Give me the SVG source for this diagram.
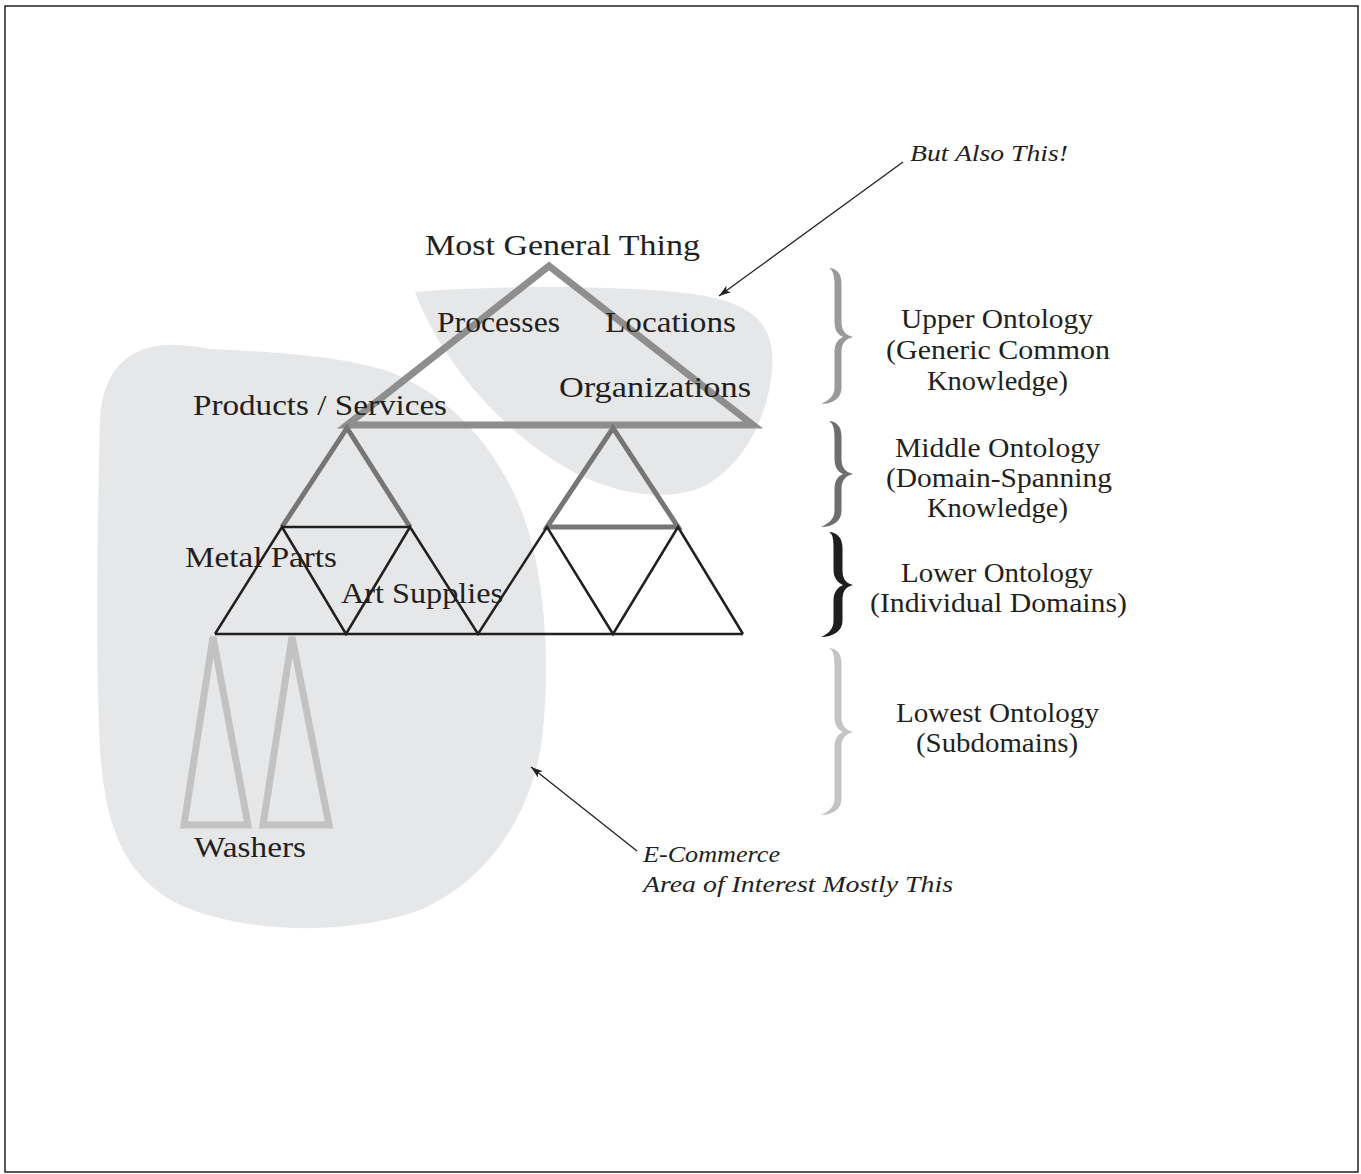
<svg xmlns="http://www.w3.org/2000/svg" width="1361" height="1174" viewBox="0 0 1361 1174">
<style>
.lbl{font-family:"Liberation Serif","DejaVu Serif",serif;font-size:30px;fill:#231f20}
.side{font-family:"Liberation Serif","DejaVu Serif",serif;font-size:27px;fill:#231f20}
.note{font-family:"Liberation Serif","DejaVu Serif",serif;font-size:24px;font-style:italic;fill:#231f20}
.blob{fill:#e6e7e8;stroke:none}
.big{fill:none;stroke:#8e8e8e;stroke-width:7}
.mid{fill:none;stroke:#767676;stroke-width:5}
.low{fill:none;stroke:#231f20;stroke-width:2.5}
.sub{fill:none;stroke:#c2c2c2;stroke-width:7}
.arrow{fill:none;stroke:#231f20;stroke-width:1.3}
</style>
<defs>
<marker id="ah" markerUnits="userSpaceOnUse" markerWidth="14" markerHeight="10" refX="12" refY="4" orient="auto">
<path d="M0,0 L12,4 L0,8 L3,4 Z" fill="#231f20"/>
</marker>
</defs>
<rect x="0" y="0" width="1361" height="1174" fill="#ffffff"/>
<rect x="5" y="6" width="1353" height="1166" fill="none" stroke="#231f20" stroke-width="1.5"/>

<g id="areas">
<path id="ecommerce-area" class="blob" d="M210,349 C270,352 340,355 390,372 C450,395 500,450 525,520 C545,580 550,660 543,730 C535,810 490,880 420,910 C350,935 250,935 180,905 C120,875 105,820 100,750 C95,650 98,500 100,420 C102,370 130,345 170,345 C185,345 200,347 210,349 Z"/>
<path id="also-area" class="blob" d="M415,292 C480,286 620,284 700,295 C760,305 775,330 772,370 C768,420 740,470 700,488 C660,503 610,492 570,470 C510,437 445,370 415,292 Z"/>
</g>

<g id="upper-triangle">
<polygon class="big" points="549,266 347,425 753,425"/>
</g>
<g id="middle-left-triangle">
<polyline class="mid" points="282,527 347,428 410,527"/>
</g>
<g id="middle-right-triangle">
<polygon class="mid" points="547,527 613,428 678,527"/>
</g>
<g id="lower-triangles">
<line class="low" x1="215" y1="634" x2="743" y2="634"/>
<line class="low" x1="282" y1="527" x2="410" y2="527"/>
<polyline class="low" points="215,634 282,527 346,634 410,527 478,634 547,527 613,634 678,527 743,634"/>
</g>
<g id="washers-triangles">
<polygon class="sub" points="213,637 184,825 248,825"/>
<polygon class="sub" points="292,637 263,825 329,825"/>
</g>

<g id="braces">
<path id="brace-upper" fill="#9a9a9a" d="M829,268 C836,268 841.5,273 841.5,284 L841.5,322 C841.5,330 845,335 853,337 C845,339 841.5,344 841.5,352 L841.5,388 C841.5,398 833,404 821,404 C828,401 834.5,396 834.5,388 L834.5,352 C834.5,344 838,339 843,337 C838,335 834.5,330 834.5,322 L834.5,284 C834.5,276 833,270 829,268Z"/>
<path id="brace-middle" fill="#6d6e70" d="M829,421 C836,421 841.5,426 841.5,437 L841.5,459 C841.5,467 845,472 853,474 C845,476 841.5,481 841.5,489 L841.5,511 C841.5,521 833,527 821,527 C828,524 834.5,519 834.5,511 L834.5,489 C834.5,481 838,476 843,474 C838,472 834.5,467 834.5,459 L834.5,437 C834.5,429 833,423 829,421Z"/>
<path id="brace-lower" fill="#1e1e1e" d="M829,532 C836,532 842.5,537 842.5,548 L842.5,570 C842.5,578 845,583 853,585 C845,587 842.5,592 842.5,600 L842.5,621 C842.5,631 833,637 821,637 C828,634 833.5,629 833.5,621 L833.5,600 C833.5,592 838,587 843,585 C838,583 833.5,578 833.5,570 L833.5,548 C833.5,540 833,534 829,532Z"/>
<path id="brace-lowest" fill="#c4c4c4" d="M829,648 C836,648 841.5,653 841.5,664 L841.5,717 C841.5,725 845,730 853,732 C845,734 841.5,739 841.5,747 L841.5,799 C841.5,809 833,815 821,815 C828,812 834.5,807 834.5,799 L834.5,747 C834.5,739 838,734 843,732 C838,730 834.5,725 834.5,717 L834.5,664 C834.5,656 833,650 829,648Z"/>
</g>

<g id="connectors">
<line class="arrow" x1="903" y1="162" x2="719" y2="296" marker-end="url(#ah)"/>
<line class="arrow" x1="637" y1="851" x2="531" y2="767" marker-end="url(#ah)"/>
</g>

<g id="node-most-general"><text class="lbl" x="425" y="255" textLength="275" lengthAdjust="spacingAndGlyphs">Most General Thing</text></g>
<g id="node-processes"><text class="lbl" x="437" y="332" textLength="123" lengthAdjust="spacingAndGlyphs">Processes</text></g>
<g id="node-locations"><text class="lbl" x="605" y="332" textLength="131" lengthAdjust="spacingAndGlyphs">Locations</text></g>
<g id="node-organizations"><text class="lbl" x="559" y="397" textLength="192" lengthAdjust="spacingAndGlyphs">Organizations</text></g>
<g id="node-products"><text class="lbl" x="193" y="415" textLength="254" lengthAdjust="spacingAndGlyphs">Products / Services</text></g>
<g id="node-metal"><text class="lbl" x="185" y="567" textLength="152" lengthAdjust="spacingAndGlyphs">Metal Parts</text></g>
<g id="node-art"><text class="lbl" x="341" y="603" textLength="162" lengthAdjust="spacingAndGlyphs">Art Supplies</text></g>
<g id="node-washers"><text class="lbl" x="194" y="857" textLength="112" lengthAdjust="spacingAndGlyphs">Washers</text></g>

<g id="label-upper">
<text class="side" x="901" y="328" textLength="192" lengthAdjust="spacingAndGlyphs">Upper Ontology</text>
<text class="side" x="886" y="359" textLength="224" lengthAdjust="spacingAndGlyphs">(Generic Common</text>
<text class="side" x="927" y="390" textLength="141" lengthAdjust="spacingAndGlyphs">Knowledge)</text>
</g>
<g id="label-middle">
<text class="side" x="895" y="457" textLength="205" lengthAdjust="spacingAndGlyphs">Middle Ontology</text>
<text class="side" x="886" y="487" textLength="226" lengthAdjust="spacingAndGlyphs">(Domain-Spanning</text>
<text class="side" x="927" y="517" textLength="141" lengthAdjust="spacingAndGlyphs">Knowledge)</text>
</g>
<g id="label-lower">
<text class="side" x="901" y="582" textLength="192" lengthAdjust="spacingAndGlyphs">Lower Ontology</text>
<text class="side" x="870" y="612" textLength="257" lengthAdjust="spacingAndGlyphs">(Individual Domains)</text>
</g>
<g id="label-lowest">
<text class="side" x="896" y="722" textLength="203" lengthAdjust="spacingAndGlyphs">Lowest Ontology</text>
<text class="side" x="916" y="752" textLength="162" lengthAdjust="spacingAndGlyphs">(Subdomains)</text>
</g>

<g id="note-also"><text class="note" x="910" y="161" textLength="158" lengthAdjust="spacingAndGlyphs">But Also This!</text></g>
<g id="note-ecommerce">
<text class="note" x="643" y="862" textLength="137" lengthAdjust="spacingAndGlyphs">E-Commerce</text>
<text class="note" x="643" y="892" textLength="310" lengthAdjust="spacingAndGlyphs">Area of Interest Mostly This</text>
</g>
</svg>
